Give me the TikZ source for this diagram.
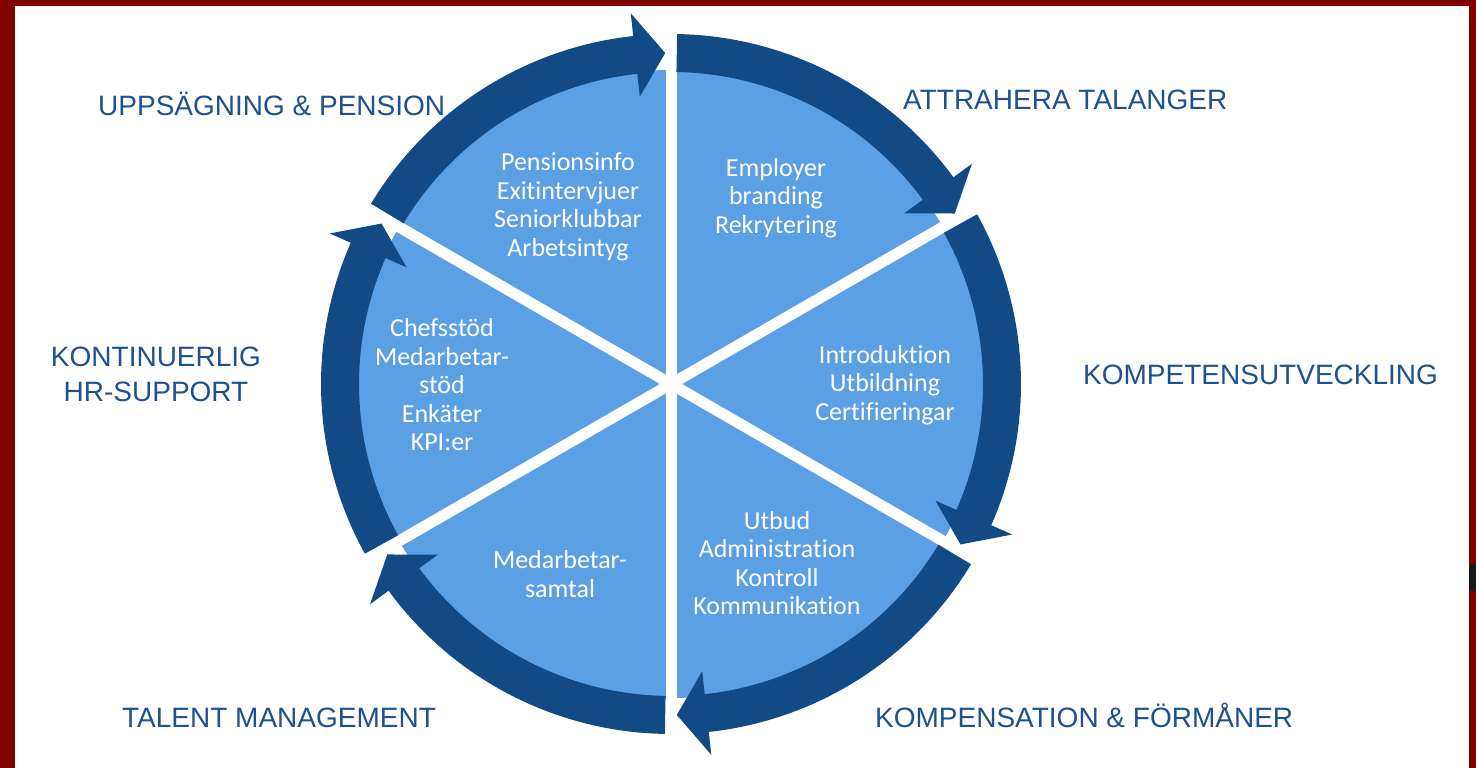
\documentclass[tikz,border=0pt]{standalone}
\usepackage{fontspec}
\setmainfont{Liberation Sans}
\newfontfamily\piefont[Ligatures=NoCommon]{Carlito}
\usepackage{tikz}
\usetikzlibrary{positioning}
\definecolor{Frame}{HTML}{800000}
\definecolor{RingBlue}{HTML}{114A84}
\definecolor{PieBlue}{HTML}{5BA0E5}
\definecolor{LabelBlue}{HTML}{1F5190}

\begin{document}
\begin{tikzpicture}[
  x=1pt, y=1pt,
  ring/.style={fill=RingBlue},
  gap/.style={draw=white, line width=11pt},
  seg/.style={font=\piefont\fontsize{26}{28.5}\selectfont, text=white, align=center},
  lbl/.style={font=\fontsize{28}{34}\selectfont, text=LabelBlue, inner sep=0pt,
    text height=20pt, text depth=0pt}
]
  % frame round the slide
  \fill[Frame] (0,0) rectangle (1476,768);
  \fill[white] (15,0) rectangle (1469,762);
  \fill[black!90] (1469,177) rectangle (1476,204);
  \useasboundingbox (0,0) rectangle (1476,768);

  % pie with six sectors and the ring of arrows
  \begin{scope}[shift={(671,384)}]
    \fill[PieBlue] (0,0) circle[radius=314];
    \draw[gap] (90:322) -- (-90:322);
    \draw[gap] (30:322) -- (210:322);
    \draw[gap] (-30:322) -- (150:322);
    \foreach \b in {150,90,30,-30,-90,-150}
      \fill[ring] ({\b-1}:350) arc[start angle=\b-1, end angle=\b-53.8, radius=350]
        -- ({\b-53.8}:373) -- ({\b-59}:331) -- ({\b-53.8}:289)
        -- ({\b-53.8}:312) arc[start angle=\b-53.8, end angle=\b-1, radius=312] -- cycle;
  \end{scope}

  \node[seg] (pension) at (568,561) {Pensionsinfo\\Exitintervjuer\\Seniorklubbar\\Arbetsintyg};
  \node[seg] (employer) at (776,570) {Employer\\branding\\Rekrytering};
  \node[seg] (intro) at (885,383) {Introduktion\\Utbildning\\Certifieringar};
  \node[seg] (utbud) at (777,205) {Utbud\\Administration\\Kontroll\\Kommunikation};
  \node[seg] (samtal) at (560,194) {Medarbetar-\\samtal};
  \node[seg] (chef) at (442,383) {Chefsstöd\\Medarbetar-\\stöd\\Enkäter\\KPI:er};

  % phase titles
  \node[lbl, anchor=west] (uppsag) at (98,662) {UPPSÄGNING \& PENSION};
  \node[lbl, anchor=west] (attr) at (903,668) {ATTRAHERA TALANGER};
  \node[lbl, anchor=west] (kompet) at (1083,393) {KOMPETENSUTVECKLING};
  \node[lbl] (kont) at (156,411) {KONTINUERLIG};
  \node[lbl, below=14pt of kont] (hrsup) {HR-SUPPORT};
  \node[lbl, anchor=west] (talent) at (122,50) {TALENT MANAGEMENT};
  \node[lbl, anchor=west] (forman) at (875,50) {KOMPENSATION \& FÖRMÅNER};
\end{tikzpicture}
\end{document}
